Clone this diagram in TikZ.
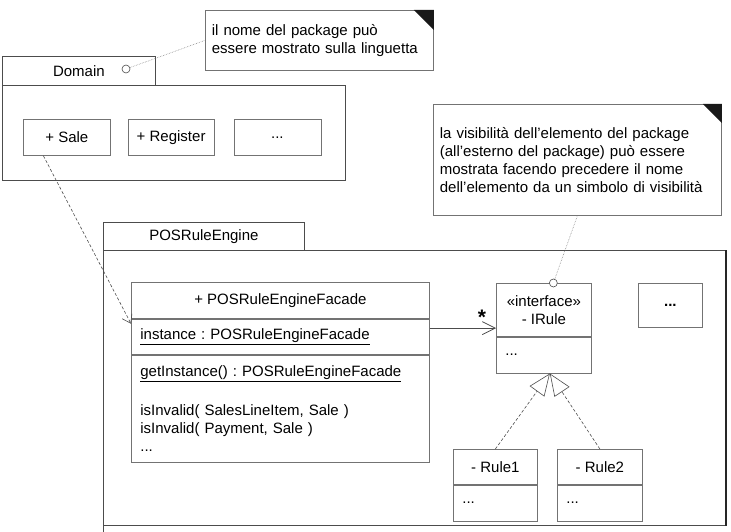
\documentclass[tikz,border=0pt]{standalone}
\usepackage{fontspec}
\setmainfont{Liberation Sans}
\usetikzlibrary{arrows.meta, positioning, calc}
\frenchspacing

\begin{document}
\begin{tikzpicture}[x=1pt, y=-1pt,
        font=\fontsize{15}{18}\selectfont,
        pkgbox/.style={draw=black!70, line width=0.8pt, inner sep=0pt, anchor=north west},
        elembox/.style={draw=black!55, line width=0.75pt, inner sep=0pt, minimum height=36pt},
        compart/.style={draw=black!55, line width=0.75pt, inner xsep=9pt, inner ysep=0pt, align=left},
        notebox/.style={draw=black!55, line width=0.75pt, inner xsep=6.5pt, inner ysep=0pt, align=left, anchor=north west},
        knob/.style={circle, draw=black!70, fill=white, line width=0.6pt, inner sep=0pt, minimum size=8pt},
        noteline/.style={densely dotted, draw=black!45, line width=0.6pt},
        dependency/.style={draw=black!70, line width=0.6pt, dash pattern=on 3pt off 2pt, -{Straight Barb[length=8pt, width=11pt]}},
        realize/.style={draw=black!70, line width=0.6pt, dash pattern=on 3pt off 2pt, -{Triangle[open, length=22pt, width=18pt]}},
        assoc/.style={draw=black!70, line width=0.7pt, -{Straight Barb[length=13pt, width=13pt]}}]
        \useasboundingbox (0,0) rectangle (731,532);

        % note on the tab
        \node[notebox, text width=215pt, minimum height=60pt] (pkgnote) at (205,10) {il nome del package può\\essere mostrato sulla linguetta};
        \fill[black!90] (pkgnote.north east) -- ++(-20,0) -- ++(20,20) -- cycle;

        % package Domain
        \node[pkgbox, minimum width=153pt, minimum height=29pt] (domaintab) at (2,56) {Domain};
        \node[pkgbox, minimum width=343pt, minimum height=95pt] (domainbody) at (2,85) {};
        \node[elembox, anchor=north west, minimum width=87pt] (sale) at (23,119) {+ Sale};
        \node[elembox, right=17pt of sale, minimum width=86pt] (register) {+ Register};
        \node[elembox, right=19pt of register, minimum width=87pt] (domainmore) {...};
        \node[knob] (domainknob) at (126,69) {};
        \draw[noteline] (domainknob) -- (pkgnote.west);

        % note on visibility
        \node[notebox, text width=275pt, minimum height=111pt] (visnote) at (433,104) {la visibilità dell’elemento del package\\(all’esterno del package) può essere\\mostrata facendo precedere il nome\\dell’elemento da un simbolo di visibilità};
        \fill[black!90] (visnote.north east) -- ++(-19,0) -- ++(19,19) -- cycle;

        % package POSRuleEngine
        \node[pkgbox, minimum width=201pt, minimum height=28pt] (enginetab) at (103,222) {POSRuleEngine};
        \node[pkgbox, minimum width=622pt, minimum height=275pt] (enginebody) at (103,250) {};
        \draw[black!85, line width=1.6pt] (enginebody.north east) -- (enginebody.south east);
        \draw[black!70, line width=0.8pt] (enginebody.south west) -- ++(0,7);

        \node[elembox, anchor=north west, minimum width=298pt] (facadehead) at (131,282) {+ POSRuleEngineFacade};
        \node[compart, below=0pt of facadehead, text width=280pt, minimum height=35pt] (facadeattr) {\underline{instance : POSRuleEngineFacade}};
        \node[compart, below=0pt of facadeattr, text width=280pt, minimum height=107pt] (facadeops) {\underline{getInstance() : POSRuleEngineFacade}\\[21pt]isInvalid( SalesLineItem, Sale )\\isInvalid( Payment, Sale )\\...};

        \node[elembox, anchor=north west, minimum width=95pt, minimum height=53pt, align=center] (irulehead) at (496,283) {«interface»\\- IRule};
        \node[compart, below=0pt of irulehead, text width=77pt, minimum height=36pt] (irulebody) {...};
        \node[knob] (ruleknob) at ([xshift=9.5pt]irulehead.north) {};
        \draw[noteline] (ruleknob) -- (visnote.south);

        \node[elembox, anchor=north west, minimum width=64pt, minimum height=44pt] (enginemore) at (638,283) {\textbf{...}};

        \node[elembox, anchor=north west, minimum width=84pt, minimum height=35pt] (rule1head) at (453,449) {- Rule1};
        \node[compart, below=0pt of rule1head, text width=66pt, minimum height=36pt] (rule1body) {...};
        \node[elembox, anchor=north west, minimum width=85pt, minimum height=35pt] (rule2head) at (557,449) {- Rule2};
        \node[compart, below=0pt of rule2head, text width=67pt, minimum height=36pt] (rule2body) {...};

        % connectors
        \draw[dependency] ([xshift=-23.5pt]sale.south) -- ([yshift=-5pt]facadehead.south west);
        \coordinate (assocfrom) at ([yshift=8.5pt]facadeattr.east);
        \draw[assoc] (assocfrom) -- (assocfrom -| irulehead.west);
        \node[font=\bfseries\fontsize{21}{24}\selectfont] (assocmult) at (482,317) {*};
        \draw[realize] (rule1head.north) -- ([xshift=6pt]irulebody.south);
        \draw[realize] (rule2head.north) -- ([xshift=6pt]irulebody.south);
    \end{tikzpicture}
\end{document}
